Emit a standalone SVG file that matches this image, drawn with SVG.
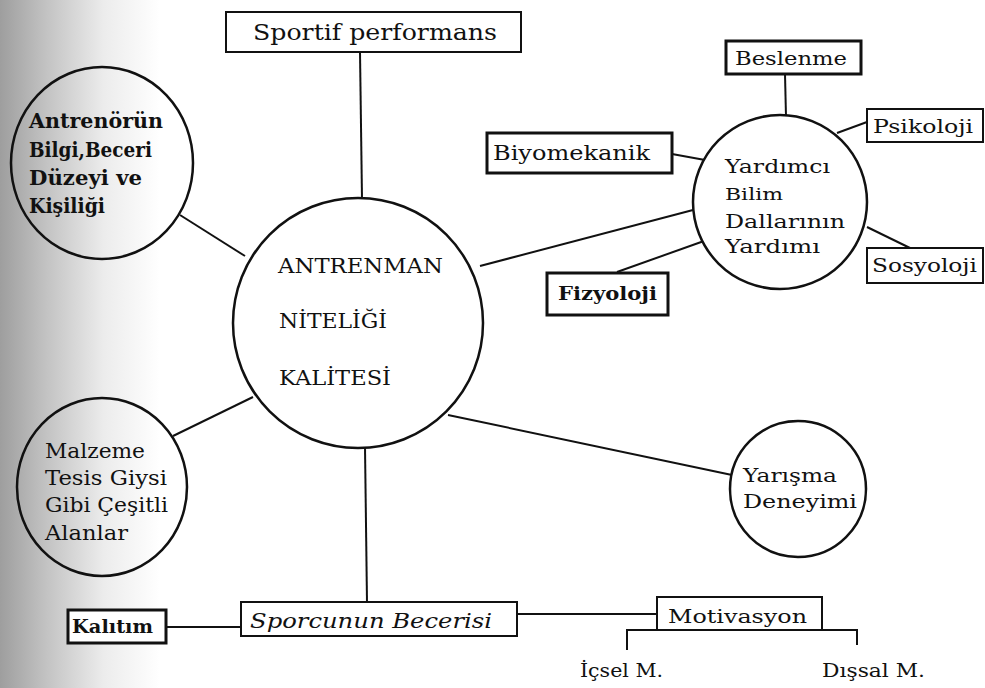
<svg xmlns="http://www.w3.org/2000/svg" width="985" height="688" viewBox="0 0 985 688">
<defs>
<linearGradient id="bg" x1="0" y1="0" x2="1" y2="0">
<stop offset="0" stop-color="#9e9e9e"/>
<stop offset="0.3" stop-color="#c4c4c4"/>
<stop offset="0.65" stop-color="#ececec"/>
<stop offset="1" stop-color="#ffffff"/>
</linearGradient>
</defs>
<style>
text{font-family:"DejaVu Serif","Liberation Serif",serif;fill:#111;}
.t{font-size:19px;}
.b{font-weight:bold;}
.box{fill:#fff;stroke:#111;stroke-width:2;}
.boxb{fill:#fff;stroke:#111;stroke-width:3;}
.circ{fill:none;stroke:#111;stroke-width:2.5;}
.circw{fill:#fff;stroke:#111;stroke-width:2.5;}
.ln{stroke:#111;stroke-width:2;fill:none;}
</style>
<rect x="0" y="0" width="985" height="688" fill="#fff"/>
<rect x="0" y="0" width="160" height="688" fill="url(#bg)"/>

<g id="connectors">
<line class="ln" x1="360" y1="52" x2="362" y2="199"/>
<line class="ln" x1="180" y1="215" x2="245" y2="256"/>
<line class="ln" x1="173" y1="436" x2="253" y2="397"/>
<line class="ln" x1="365" y1="447" x2="367" y2="602"/>
<line class="ln" x1="448" y1="415" x2="732" y2="475"/>
<line class="ln" x1="480" y1="266" x2="693" y2="210"/>
<line class="ln" x1="785" y1="74" x2="786" y2="117"/>
<line class="ln" x1="837" y1="133" x2="867" y2="122"/>
<line class="ln" x1="672" y1="154" x2="705" y2="160"/>
<line class="ln" x1="867" y1="227" x2="910" y2="248"/>
<line class="ln" x1="617" y1="272" x2="704" y2="241"/>
<line class="ln" x1="166" y1="627" x2="241" y2="627"/>
<line class="ln" x1="517" y1="614" x2="657" y2="614"/>
<polyline class="ln" points="627,650 627,630 857,630 857,645" stroke-width="2.5"/>
</g>

<g id="sportif">
<rect class="box" x="226" y="12" width="295" height="40"/>
<text x="253" y="40" font-size="22" textLength="244" lengthAdjust="spacingAndGlyphs">Sportif performans</text>
</g>

<g id="antrenman">
<circle class="circw" cx="358" cy="323" r="125"/>
<text x="278" y="273" font-size="20" textLength="165" lengthAdjust="spacingAndGlyphs">ANTRENMAN</text>
<text x="279" y="328" font-size="20" textLength="108" lengthAdjust="spacingAndGlyphs">NİTELİĞİ</text>
<text x="279" y="385" font-size="20" textLength="112" lengthAdjust="spacingAndGlyphs">KALİTESİ</text>
</g>

<g id="antrenorun">
<ellipse class="circ" cx="102" cy="163" rx="91" ry="96"/>
<text class="b" x="29" y="128" font-size="20" textLength="134" lengthAdjust="spacingAndGlyphs">Antrenörün</text>
<text class="b" x="29" y="157" font-size="20" textLength="123" lengthAdjust="spacingAndGlyphs">Bilgi,Beceri</text>
<text class="b" x="29" y="185" font-size="20" textLength="113" lengthAdjust="spacingAndGlyphs">Düzeyi ve</text>
<text class="b" x="29" y="213" font-size="20" textLength="76" lengthAdjust="spacingAndGlyphs">Kişiliği</text>
</g>

<g id="malzeme">
<ellipse class="circ" cx="102" cy="487" rx="85" ry="89"/>
<text x="45" y="458" font-size="20" textLength="100" lengthAdjust="spacingAndGlyphs">Malzeme</text>
<text x="45" y="485" font-size="20" textLength="122" lengthAdjust="spacingAndGlyphs">Tesis Giysi</text>
<text x="45" y="512" font-size="20" textLength="123" lengthAdjust="spacingAndGlyphs">Gibi Çeşitli</text>
<text x="45" y="540" font-size="20" textLength="83" lengthAdjust="spacingAndGlyphs">Alanlar</text>
</g>

<g id="yardimci">
<circle class="circw" cx="780" cy="202" r="87"/>
<text x="725" y="173" class="t" textLength="105" lengthAdjust="spacingAndGlyphs">Yardımcı</text>
<text x="725" y="200" font-size="17" textLength="58" lengthAdjust="spacingAndGlyphs">Bilim</text>
<text x="725" y="228" class="t" textLength="120" lengthAdjust="spacingAndGlyphs">Dallarının</text>
<text x="725" y="253" class="t" textLength="95" lengthAdjust="spacingAndGlyphs">Yardımı</text>
</g>

<g id="beslenme">
<rect class="boxb" x="726" y="41" width="135" height="33"/>
<text x="735" y="65" class="t" textLength="112" lengthAdjust="spacingAndGlyphs">Beslenme</text>
</g>

<g id="psikoloji">
<rect class="box" x="867" y="109" width="116" height="33"/>
<text x="873" y="133" class="t" textLength="100" lengthAdjust="spacingAndGlyphs">Psikoloji</text>
</g>

<g id="biyomekanik">
<rect class="boxb" x="487" y="133" width="185" height="40"/>
<text x="493" y="160" font-size="20" textLength="157" lengthAdjust="spacingAndGlyphs">Biyomekanik</text>
</g>

<g id="sosyoloji">
<rect class="box" x="867" y="248" width="116" height="35"/>
<text x="872" y="272" class="t" textLength="105" lengthAdjust="spacingAndGlyphs">Sosyoloji</text>
</g>

<g id="fizyoloji">
<rect class="boxb" x="547" y="273" width="121" height="42"/>
<text class="b" x="558" y="300" font-size="18" textLength="99" lengthAdjust="spacingAndGlyphs">Fizyoloji</text>
</g>

<g id="yarisma">
<circle class="circw" cx="798" cy="489" r="68"/>
<text x="743" y="482" class="t" textLength="94" lengthAdjust="spacingAndGlyphs">Yarışma</text>
<text x="743" y="508" class="t" textLength="114" lengthAdjust="spacingAndGlyphs">Deneyimi</text>
</g>

<g id="sporcunun">
<rect class="box" x="241" y="602" width="276" height="34"/>
<text x="250" y="628" font-size="21" font-style="italic" textLength="242" lengthAdjust="spacingAndGlyphs">Sporcunun Becerisi</text>
</g>

<g id="kalitim">
<rect class="boxb" x="68" y="610" width="98" height="33"/>
<text class="b" x="72" y="633" font-size="18" textLength="81" lengthAdjust="spacingAndGlyphs">Kalıtım</text>
</g>

<g id="motivasyon">
<rect class="box" x="657" y="597" width="165" height="33"/>
<text x="668" y="623" class="t" textLength="139" lengthAdjust="spacingAndGlyphs">Motivasyon</text>
</g>

<g id="icsel">
<text x="580" y="677" font-size="18" textLength="83" lengthAdjust="spacingAndGlyphs">İçsel M.</text>
</g>

<g id="dissal">
<text x="822" y="677" font-size="18" textLength="103" lengthAdjust="spacingAndGlyphs">Dışsal M.</text>
</g>
</svg>
